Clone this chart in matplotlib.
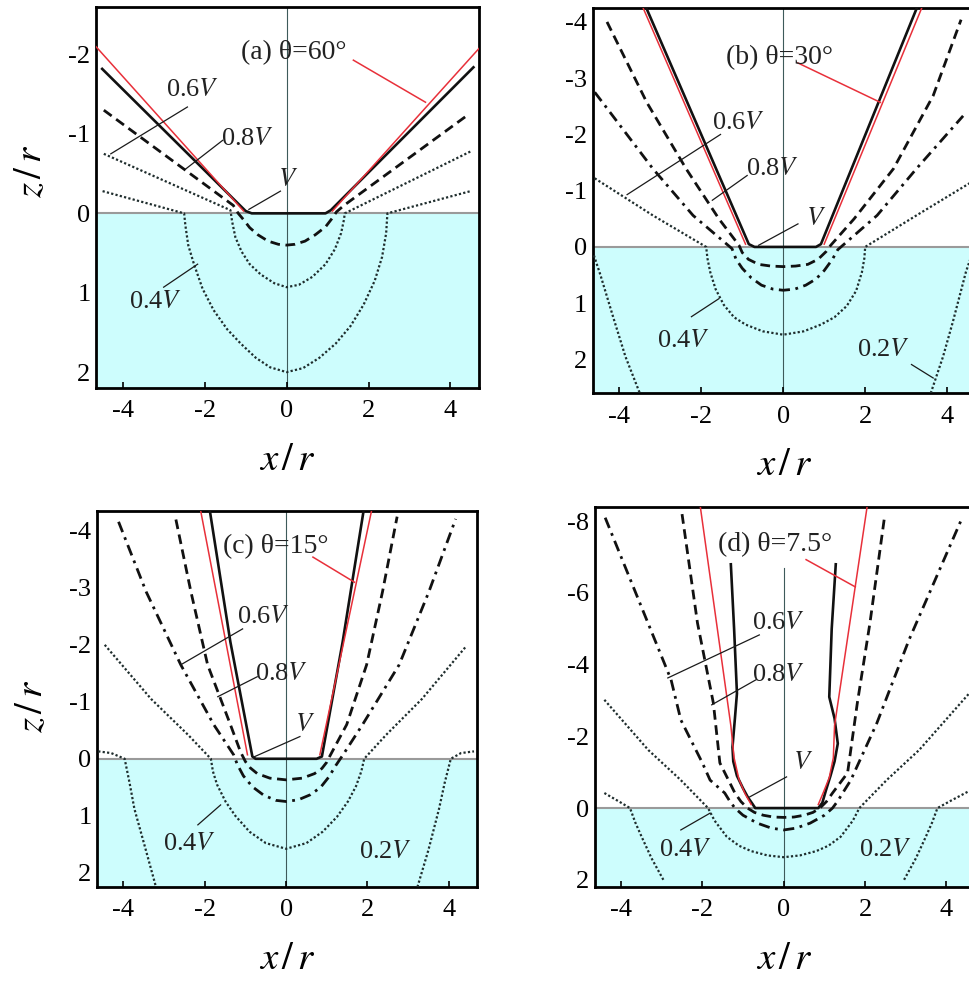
import numpy as np
import matplotlib
matplotlib.use("Agg")
import matplotlib.pyplot as plt

plt.rcParams['font.family'] = ['Liberation Serif', 'DejaVu Serif']
plt.rcParams['mathtext.fontset'] = 'stix'
plt.rcParams['axes.unicode_minus'] = False

nan = np.nan

# ---------------- (a) theta = 60 deg ----------------
a_red_x = [-4.65, -1.05, nan, 1.12, 4.7]
a_red_z = [-2.1, -0.03, nan, -0.03, -2.08]
a_solid_x = [-4.5, -1.0, -0.85, 0.95, 1.08, 4.56]
a_solid_z = [-1.82, -0.03, 0.0, 0.0, -0.04, -1.84]
a_dash_x = [-4.46, -1.3, -1.18, -1.05, -0.9, -0.7, -0.45, -0.2, 0.0, 0.2, 0.45, 0.7, 0.95, 1.1, 1.22, 1.4, 4.37]
a_dash_z = [-1.3, -0.1, 0.0, 0.08, 0.18, 0.27, 0.35, 0.39, 0.4, 0.39, 0.35, 0.27, 0.17, 0.07, -0.02, -0.1, -1.22]
a_dot6_x = [-4.46, -1.37, -1.33, -1.25, -1.1, -0.9, -0.63, -0.3, 0.0, 0.3, 0.63, 0.95, 1.18, 1.33, 1.4, 1.42, 4.49]
a_dot6_z = [-0.75, -0.04, 0.1, 0.3, 0.48, 0.64, 0.77, 0.88, 0.93, 0.9, 0.8, 0.64, 0.45, 0.25, 0.08, 0.0, -0.78]
a_dot4_x = [-4.49, -2.5, -2.47, -2.4, -2.26, -2.05, -1.78, -1.45, -1.12, -0.75, -0.4, 0.0, 0.4, 0.8,
            1.2, 1.56, 1.88, 2.15, 2.33, 2.43, 2.46, 4.49]
a_dot4_z = [-0.28, 0.0, 0.15, 0.4, 0.64, 0.95, 1.22, 1.46, 1.64, 1.82, 1.94, 2.0, 1.95, 1.82,
            1.64, 1.42, 1.15, 0.85, 0.55, 0.25, 0.0, -0.28]

# ---------------- (b) theta = 30 deg ----------------
b_red_x = [-3.45, -0.92, nan, 1.0, 3.41]
b_red_z = [-4.3, -0.05, nan, -0.05, -4.3]
b_solid_x = [-3.33, -0.84, -0.7, 0.8, 0.92, 3.25]
b_solid_z = [-4.23, -0.05, 0.0, 0.0, -0.05, -4.23]
b_dash_x = [-4.3, -3.33, -2.37, -1.57, -1.08, -1.0, -0.85, -0.6, -0.3, 0.0, 0.3, 0.6, 0.85, 1.05, 1.16,
            1.73, 2.69, 3.66, 4.34]
b_dash_z = [-4.0, -2.57, -1.39, -0.5, -0.03, 0.1, 0.22, 0.31, 0.34, 0.35, 0.34, 0.31, 0.22, 0.08, -0.03,
            -0.5, -1.39, -2.69, -4.04]
b_dd_x = [-4.6, -4.41, -3.18, -2.2, -1.25, -1.15, -1.0, -0.78, -0.53, -0.25, 0.0, 0.28, 0.55, 0.8, 1.0,
          1.2, 1.33, 2.29, 3.25, 4.39]
b_dd_z = [-2.75, -2.57, -1.39, -0.56, 0.03, 0.22, 0.38, 0.55, 0.68, 0.75, 0.77, 0.75, 0.68, 0.57, 0.42,
          0.22, 0.05, -0.56, -1.39, -2.33]
b_dot4_x = [-4.6, -3.18, -1.88, -1.85, -1.78, -1.65, -1.45, -1.2, -0.92, -0.5, 0.0, 0.5, 0.92, 1.25,
            1.55, 1.78, 1.92, 1.98, 2.0, 3.25, 4.7]
b_dot4_z = [-1.22, -0.56, 0.0, 0.2, 0.45, 0.75, 1.03, 1.25, 1.38, 1.5, 1.56, 1.5, 1.38, 1.25,
            1.05, 0.78, 0.45, 0.2, 0.0, -0.56, -1.2]
b_dot2_x = [-4.62, -4.46, -4.14, -3.85, -3.5, nan, 3.6, 3.9, 4.14, 4.46, 4.62]
b_dot2_z = [0.15, 0.5, 1.27, 1.95, 2.6, nan, 2.6, 1.95, 1.33, 0.44, 0.1]

# ---------------- (c) theta = 15 deg ----------------
c_red_x = [-2.1, -0.95, nan, 0.83, 2.1]
c_red_z = [-4.35, -0.07, nan, -0.07, -4.35]
c_solid_x = [-1.87, -1.37, -0.83, -0.75, 0.75, 0.88, 1.39, 1.9]
c_solid_z = [-4.33, -2.05, -0.04, 0.0, 0.0, -0.04, -2.05, -4.33]
c_dash_x = [-2.71, -2.34, -1.93, -1.37, -1.12, -1.0, -0.88, -0.71, -0.4, 0.0, 0.4, 0.7, 0.88, 1.0, 1.04,
            1.49, 1.98, 2.37, 2.73]
c_dash_z = [-4.2, -2.93, -1.65, -0.6, -0.12, 0.05, 0.16, 0.26, 0.34, 0.37, 0.34, 0.26, 0.17, 0.06, 0.0,
            -0.6, -1.65, -2.93, -4.25]
c_dd_x = [-4.12, -3.44, -2.59, -1.78, -1.29, -1.2, -1.05, -0.83, -0.55, -0.25, 0.0, 0.3, 0.6, 0.85,
          1.05, 1.22, 1.4, 1.88, 2.78, 3.51, 4.17]
c_dd_z = [-4.16, -2.93, -1.65, -0.6, -0.07, 0.1, 0.3, 0.49, 0.64, 0.73, 0.75, 0.72, 0.63, 0.5,
          0.32, 0.12, -0.07, -0.6, -1.65, -2.93, -4.21]
c_dot4_x = [-4.46, -3.32, -2.41, -1.85, -1.8, -1.7, -1.49, -1.25, -0.9, -0.5, 0.0, 0.5, 0.9, 1.25,
            1.52, 1.72, 1.85, 1.92, 2.46, 3.34, 4.41]
c_dot4_z = [-2.0, -1.05, -0.42, 0.0, 0.22, 0.45, 0.75, 1.0, 1.28, 1.48, 1.58, 1.48, 1.28, 1.02,
            0.75, 0.48, 0.22, 0.0, -0.42, -1.05, -1.96]
c_dot2_x = [-4.62, -4.3, -3.97, -3.85, -3.73, -3.45, -3.2, nan, 3.23, 3.5, 3.76, 3.9, 4.05, 4.3, 4.62]
c_dot2_z = [-0.13, -0.1, 0.0, 0.42, 0.88, 1.6, 2.25, nan, 2.25, 1.6, 0.88, 0.42, 0.0, -0.1, -0.13]

# ---------------- (d) theta = 7.5 deg ----------------
d_red_x = [-2.05, -1.3, -1.22, -1.1, -0.95, -0.8, nan, 0.85, 0.98, 1.12, 1.22, 1.25, 2.05]
d_red_z = [-8.4, -2.3, -1.4, -0.8, -0.4, -0.1, nan, -0.1, -0.45, -0.85, -1.4, -2.3, -8.4]
d_solid_x = [-1.3, -1.22, -1.15, -1.2, -1.26, -1.24, -1.15, -1.0, -0.88, -0.77, -0.7, 0.85, 0.95, 1.04,
             1.15, 1.25, 1.33, 1.25, 1.12, 1.18, 1.28]
d_solid_z = [-6.8, -5.0, -3.2, -2.5, -1.7, -1.3, -0.9, -0.55, -0.3, -0.12, 0.0, 0.0, -0.15, -0.5,
             -0.9, -1.3, -1.8, -2.5, -3.1, -5.0, -6.8]
d_dash_x = [-2.5, -2.12, -1.73, -1.57, -1.2, -1.05, -0.89, -0.72, -0.5, -0.25, 0.0, 0.25, 0.5, 0.72,
            0.89, 1.05, 1.2, 1.57, 1.81, 2.12, 2.48]
d_dash_z = [-8.2, -5.16, -2.93, -1.26, -0.42, -0.18, 0.0, 0.12, 0.2, 0.25, 0.26, 0.25, 0.2, 0.12,
            0.0, -0.18, -0.42, -0.98, -2.93, -5.16, -8.13]
d_dd_x = [-4.39, -3.57, -2.77, -2.53, -2.0, -1.81, -1.45, -1.33, -1.2, -1.0, -0.65, -0.3, 0.0, 0.3,
          0.65, 1.0, 1.2, 1.33, 1.45, 1.65, 2.29, 3.08, 4.39]
d_dd_z = [-8.1, -5.81, -3.58, -2.46, -1.26, -0.78, -0.42, -0.2, 0.0, 0.2, 0.42, 0.56, 0.61, 0.56,
          0.42, 0.2, 0.0, -0.2, -0.42, -0.78, -2.37, -4.69, -8.1]
d_dot4_x = [-4.41, -3.33, -2.53, -1.86, -1.7, -1.4, -1.1, -0.8, -0.4, 0.0, 0.4, 0.8, 1.1, 1.4, 1.7,
            1.86, 2.53, 3.33, 4.6]
d_dot4_z = [-3.02, -1.62, -0.78, 0.0, 0.35, 0.8, 1.05, 1.2, 1.32, 1.37, 1.32, 1.2, 1.05, 0.8, 0.35,
            0.0, -0.78, -1.62, -3.25]
d_dot2_x = [-4.41, -4.0, -3.78, -3.65, -3.49, -3.25, -2.96, nan, 2.96, 3.25, 3.49, 3.65, 3.78, 4.1, 4.6]
d_dot2_z = [-0.42, -0.15, 0.0, 0.4, 0.81, 1.4, 2.0, nan, 2.0, 1.4, 0.81, 0.4, 0.0, -0.2, -0.5]

# ---------------- labels: (text, x, z) and leader lines (x0, z0, x1, z1) ----------------
a_titles = ["(a) θ=60°", -1.12, -2.02]
a_texts = [["0.6$V$", -2.95, -1.55], ["0.8$V$", -1.6, -0.94], ["$V$", -0.22, -0.42], ["0.4$V$", -3.85, 1.12]]
a_leaders = [[-4.29, -0.75, -2.42, -1.34], [-2.46, -0.56, -1.56, -0.92], [-0.92, -0.05, -0.15, -0.28], [-3.0, 0.93, -2.17, 0.64]]
a_red_leader = [1.63, -1.93, 3.39, -1.4]

b_titles = ["(b) θ=30°", -1.4, -3.36]
b_texts = [["0.6$V$", -1.73, -2.21], ["0.8$V$", -0.92, -1.39], ["$V$", 0.55, -0.5], ["0.4$V$", -3.09, 1.68], ["0.2$V$", 1.81, 1.83]]
b_leaders = [[-3.81, -0.93, -1.53, -2.0], [-1.73, -0.83, -0.88, -1.27], [-0.6, -0.03, 0.36, -0.41], [-2.24, 1.24, -1.57, 0.92], [3.13, 2.09, 3.66, 2.33]]
b_red_leader = [0.36, -3.27, 2.37, -2.57]

c_titles = ["(c) θ=15°", -1.56, -3.72]
c_texts = [["0.6$V$", -1.2, -2.49], ["0.8$V$", -0.76, -1.49], ["$V$", 0.22, -0.6], ["0.4$V$", -3.02, 1.49], ["0.2$V$", 1.8, 1.63]]
c_leaders = [[-2.59, -1.65, -1.07, -2.28], [-1.68, -1.09, -0.71, -1.44], [-0.8, -0.03, 0.34, -0.39], [-2.17, 1.16, -1.61, 0.81]]
c_red_leader = [0.66, -3.54, 1.68, -3.1]

d_titles = ["(d) θ=7.5°", -1.61, -7.35]
d_texts = [["0.6$V$", -0.77, -5.16], ["0.8$V$", -0.77, -3.72], ["$V$", 0.24, -1.26], ["0.4$V$", -3.06, 1.17], ["0.2$V$", 1.86, 1.17]]
d_leaders = [[-2.85, -3.63, -0.6, -4.83], [-1.77, -2.88, -0.68, -3.58], [-0.84, -0.31, 0.07, -0.87], [-2.53, 0.61, -1.81, 0.14]]
d_red_leader = [0.55, -6.93, 1.76, -6.17]

a_yticks = [-2, -1, 0, 1, 2]
b_yticks = [-4, -3, -2, -1, 0, 1, 2]
c_yticks = [-4, -3, -2, -1, 0, 1, 2]
d_yticks = [-8, -6, -4, -2, 0, 2]
xticks = [-4, -2, 0, 2, 4]

DOT = '#1f2d2d'
RED = '#e8303a'
LABEL_SIZE = 19


def draw_panel(ax, curves, title, texts, leaders, red_leader, ylim, yticks, vtop):
    ax.set_xlim(-4.65, 4.7)
    ax.set_ylim(*ylim)
    ax.axhspan(0, ylim[0], color='#cdfdfd', zorder=0, lw=0)
    ax.axhline(0, color='#9a9a9a', lw=1.5, zorder=1)
    ax.plot([0, 0], [vtop, ylim[0]], color='#3d5a5a', lw=0.8, zorder=1)

    red, solid, dash, dd, dot4, dot2 = curves
    ax.plot(*red, color=RED, lw=1.1, zorder=4)
    ax.plot(*solid, color='#111111', lw=1.9, zorder=3)
    ax.plot(*dash, color='#111111', lw=2.0, ls=(0, (3.5, 2.0)), zorder=3)
    if dd is not None:
        ax.plot(*dd, color='#111111', lw=2.0, ls=(0, (4, 2, 1, 2)), zorder=3)
    ax.plot(*dot4, color=DOT, lw=1.6, ls=(0, (1, 1)), zorder=3)
    if dot2 is not None:
        ax.plot(*dot2, color=DOT, lw=1.6, ls=(0, (1, 1)), zorder=3)

    for x0, z0, x1, z1 in leaders:
        ax.plot([x0, x1], [z0, z1], color='#1a1a1a', lw=0.9, zorder=5)
    ax.plot(red_leader[0::2], red_leader[1::2], color=RED, lw=1.1, zorder=5)

    ax.text(title[1], title[2], title[0], fontsize=LABEL_SIZE + 1, color='#222222',
            ha='left', va='center', zorder=6)
    for s, x, z in texts:
        ax.text(x, z, s, fontsize=LABEL_SIZE, color='#222222', ha='left', va='center', zorder=6)

    ax.set_xticks(xticks)
    ax.set_yticks(yticks)
    ax.set_xticklabels([str(t) for t in xticks])
    ax.set_yticklabels([str(t) for t in yticks])
    ax.tick_params(axis='x', direction='in', length=4, width=1.2, pad=9, labelsize=19)
    ax.tick_params(axis='y', length=0, pad=4, labelsize=19)
    for sp in ax.spines.values():
        sp.set_linewidth(2.0)
    ax.set_xlabel(r'$x\,/\,r$', fontsize=28, labelpad=14)


fig = plt.figure(figsize=(9.7, 9.83), dpi=100)
ax_a = fig.add_axes([0.099, 0.6053, 0.395, 0.3876])
ax_b = fig.add_axes([0.611, 0.600, 0.395, 0.392])
ax_c = fig.add_axes([0.100, 0.0977, 0.392, 0.3825])
ax_d = fig.add_axes([0.613, 0.0977, 0.392, 0.3866])

draw_panel(ax_a, [(a_red_x, a_red_z), (a_solid_x, a_solid_z), (a_dash_x, a_dash_z), None,
                  (a_dot6_x, a_dot6_z), (a_dot4_x, a_dot4_z)],
           a_titles, a_texts, a_leaders, a_red_leader, (2.2, -2.6), a_yticks, -2.6)
draw_panel(ax_b, [(b_red_x, b_red_z), (b_solid_x, b_solid_z), (b_dash_x, b_dash_z), (b_dd_x, b_dd_z),
                  (b_dot4_x, b_dot4_z), (b_dot2_x, b_dot2_z)],
           b_titles, b_texts, b_leaders, b_red_leader, (2.6, -4.25), b_yticks, -4.25)
draw_panel(ax_c, [(c_red_x, c_red_z), (c_solid_x, c_solid_z), (c_dash_x, c_dash_z), (c_dd_x, c_dd_z),
                  (c_dot4_x, c_dot4_z), (c_dot2_x, c_dot2_z)],
           c_titles, c_texts, c_leaders, c_red_leader, (2.25, -4.35), c_yticks, -4.35)
draw_panel(ax_d, [(d_red_x, d_red_z), (d_solid_x, d_solid_z), (d_dash_x, d_dash_z), (d_dd_x, d_dd_z),
                  (d_dot4_x, d_dot4_z), (d_dot2_x, d_dot2_z)],
           d_titles, d_texts, d_leaders, d_red_leader, (2.2, -8.4), d_yticks, -6.7)

for ax, yy in ((ax_a, 0.57), (ax_c, 0.48)):
    ax.set_ylabel(r'$z\,/\,r$', fontsize=28)
    ax.yaxis.set_label_coords(-0.12, yy)

fig.savefig('out.png', dpi=100)
